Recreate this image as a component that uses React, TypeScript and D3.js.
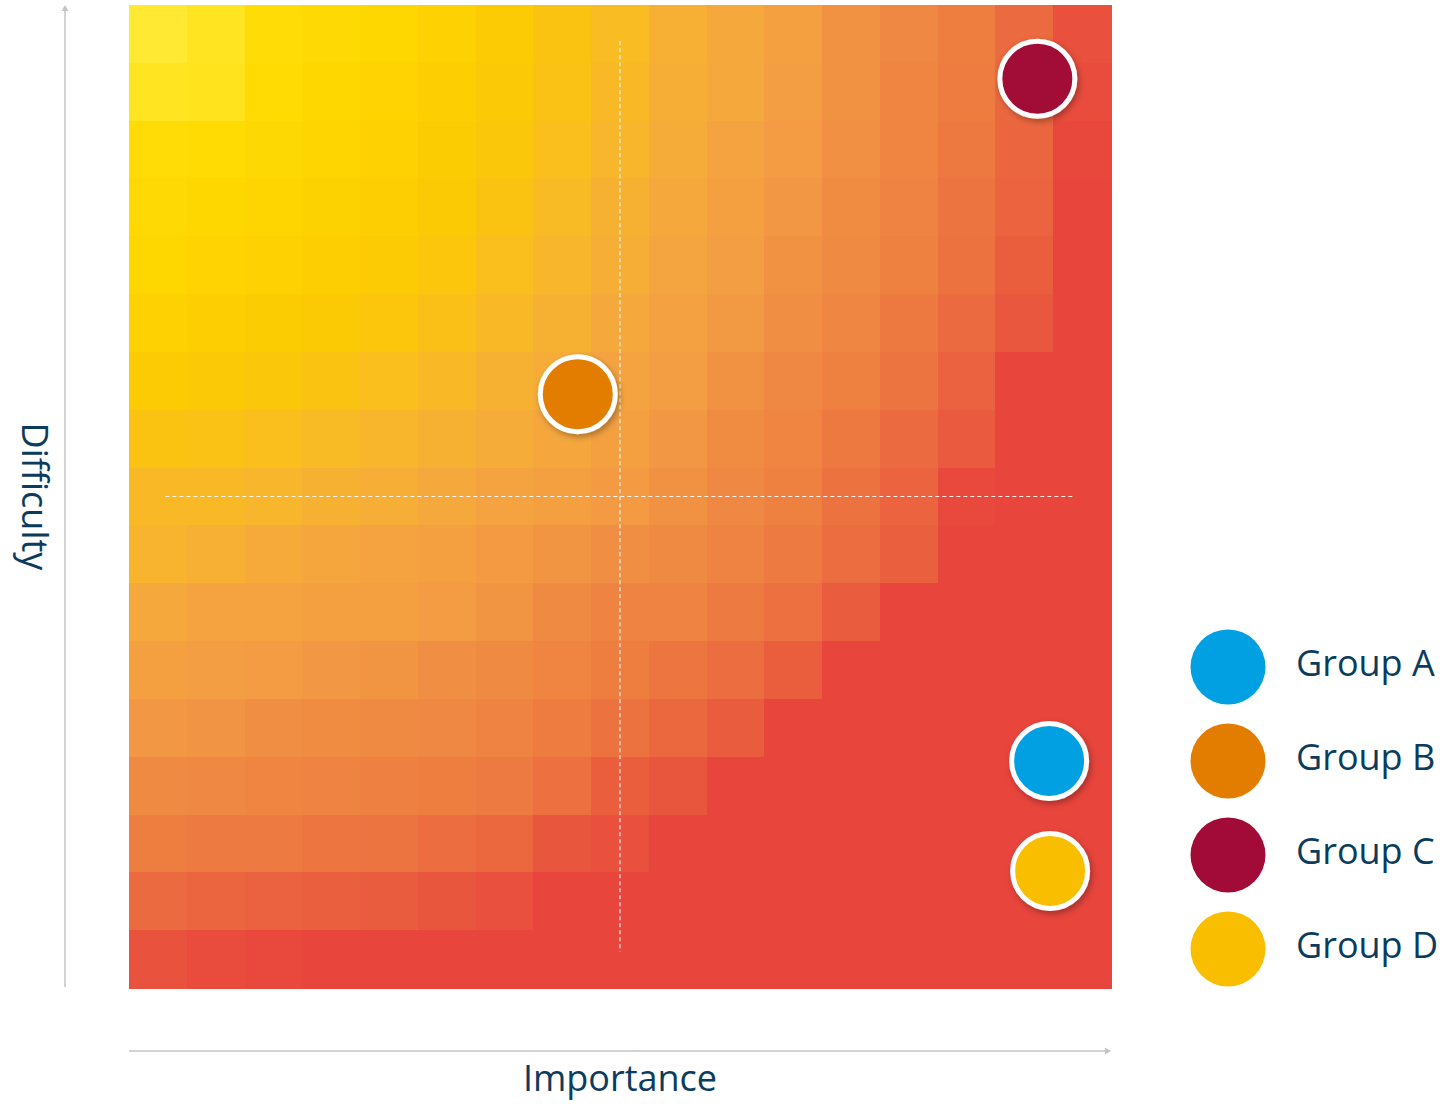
import React from "react";
import * as d3 from "d3";

// Heat levels (0 = bright yellow, 100 = red), rows top→bottom, columns left→right
const heatRows: number[][] = [
  [0, 3, 8, 11, 14, 18, 22, 30, 35, 43, 47, 52, 60, 66, 72, 82, 95],
  [3, 4, 10, 13, 16, 20, 24, 31, 37, 44, 47, 53, 60, 68, 73, 83, 97],
  [8, 10, 12, 15, 18, 21, 26, 33, 39, 45, 50, 54, 61, 68, 75, 84, 99],
  [11, 13, 15, 17, 20, 23, 30, 36, 42, 47, 52, 57, 64, 69, 77, 85, 100],
  [14, 16, 18, 20, 22, 27, 33, 39, 44, 49, 53, 60, 65, 71, 78, 88, 100],
  [18, 20, 21, 23, 27, 32, 37, 42, 47, 51, 56, 62, 67, 75, 82, 91, 100],
  [22, 24, 26, 30, 33, 37, 42, 45, 50, 53, 60, 66, 71, 77, 86, 100, 100],
  [30, 31, 33, 36, 39, 42, 45, 48, 52, 57, 64, 68, 75, 82, 90, 100, 100],
  [37, 37, 39, 42, 44, 47, 50, 52, 55, 60, 66, 71, 78, 85, 98, 100, 100],
  [40, 43, 46, 48, 50, 52, 55, 58, 62, 65, 69, 74, 80, 87, 100, 100, 100],
  [47, 50, 50, 52, 52, 54, 58, 65, 69, 69, 74, 79, 89, 100, 100, 100, 100],
  [52, 53, 54, 57, 58, 62, 65, 68, 72, 76, 80, 88, 100, 100, 100, 100, 100],
  [57, 59, 62, 64, 65, 66, 69, 73, 78, 83, 89, 100, 100, 100, 100, 100, 100],
  [65, 66, 68, 69, 70, 72, 74, 79, 88, 92, 100, 100, 100, 100, 100, 100, 100],
  [72, 74, 74, 76, 77, 80, 83, 92, 95, 100, 100, 100, 100, 100, 100, 100, 100],
  [82, 84, 86, 87, 89, 92, 95, 100, 100, 100, 100, 100, 100, 100, 100, 100, 100],
  [94, 97, 98, 100, 100, 100, 100, 100, 100, 100, 100, 100, 100, 100, 100, 100, 100],
];

const levelStops = [0, 8, 14, 22, 30, 36, 42, 48, 54, 60, 66, 72, 78, 84, 90, 95, 100];
const levelColors = [
  "#FFE933", "#FFDC05", "#FED600", "#FCCB03", "#FAC312", "#F9BB25", "#F7B132",
  "#F5A73E", "#F39C43", "#F19243", "#EF8842", "#EE7E40", "#EC7240", "#EB663F",
  "#E95A3E", "#E9503D", "#E8453C",
];

const groupNames = ["Group A", "Group B", "Group C", "Group D"];
const groupColors = ["#00A0E2", "#E37D00", "#A20B38", "#F9BE00"];
const importance = [9.37, 4.57, 9.25, 9.38];
const difficulty = [2.31, 6.04, 9.25, 1.19];

const axisDomain = [0, 10];
const midValue = 5;
const guideExtent = [0.37, 9.63];

const W = 1452;
const H = 1104;
const plot = { left: 129, right: 1111, top: 5, bottom: 988 };
const textColor = "#0B3C5D";
const font = "'Open Sans', sans-serif";

export default function App() {
  const nCols = heatRows[0].length;
  const nRows = heatRows.length;
  const colBand = d3.scaleBand<number>().domain(d3.range(nCols)).range([plot.left, plot.right]);
  const rowBand = d3.scaleBand<number>().domain(d3.range(nRows)).range([plot.top, plot.bottom]);
  const color = d3.scaleLinear<string>().domain(levelStops).range(levelColors).clamp(true);
  const x = d3.scaleLinear().domain(axisDomain).range([plot.left, plot.right]);
  const y = d3.scaleLinear().domain(axisDomain).range([plot.bottom, plot.top]);

  const axisGray = "#C4C4C4";

  return (
    <svg
      width={W}
      height={H}
      style={{ position: "absolute", left: 0, top: 0, background: "#fff" }}
      xmlns="http://www.w3.org/2000/svg"
    >
      <defs>
        <filter id="shadow" x="-50%" y="-50%" width="200%" height="200%">
          <feDropShadow dx="2" dy="3" stdDeviation="3" floodColor="#000" floodOpacity="0.3" />
        </filter>
      </defs>

      {/* heat cells */}
      <g shapeRendering="crispEdges">
        {heatRows.map((row, r) =>
          row.map((v, c) => (
            <rect
              key={`${r}-${c}`}
              x={colBand(c)!}
              y={rowBand(r)!}
              width={colBand.bandwidth() + 0.5}
              height={rowBand.bandwidth() + 0.5}
              fill={color(v)}
            />
          ))
        )}
      </g>

      {/* quadrant guides */}
      <line
        x1={x(midValue)}
        x2={x(midValue)}
        y1={y(guideExtent[1])}
        y2={y(guideExtent[0])}
        stroke="#fff"
        strokeWidth={1.2}
        strokeDasharray="4 3"
        opacity={0.9}
      />
      <line
        x1={x(guideExtent[0])}
        x2={x(guideExtent[1])}
        y1={y(midValue)}
        y2={y(midValue)}
        stroke="#fff"
        strokeWidth={1.2}
        strokeDasharray="4 3"
        opacity={0.9}
      />

      {/* points */}
      {groupNames.map((g, i) => (
        <circle
          key={g}
          cx={x(importance[i])}
          cy={y(difficulty[i])}
          r={37.5}
          fill={groupColors[i]}
          stroke="#fff"
          strokeWidth={5}
          filter="url(#shadow)"
        />
      ))}

      {/* y axis arrow */}
      <line x1={65} x2={65} y1={987} y2={9} stroke={axisGray} strokeWidth={1.5} />
      <path d="M61.5,11 L65,5 L68.5,11 Z" fill={axisGray} />
      {/* x axis arrow */}
      <line x1={plot.left} x2={1106} y1={1051} y2={1051} stroke={axisGray} strokeWidth={1.5} />
      <path d="M1105,1047.5 L1111,1051 L1105,1054.5 Z" fill={axisGray} />

      {/* axis titles */}
      <text
        x={(plot.left + plot.right) / 2}
        y={1091}
        textAnchor="middle"
        fontFamily={font}
        fontSize={36}
        fill={textColor}
      >
        Importance
      </text>
      <text
        transform={`translate(22, ${(plot.top + plot.bottom) / 2}) rotate(90)`}
        textAnchor="middle"
        fontFamily={font}
        fontSize={36}
        fill={textColor}
      >
        Difficulty
      </text>

      {/* legend */}
      {groupNames.map((g, i) => (
        <g key={g} transform={`translate(1228, ${667 + i * 94})`}>
          <circle r={37.5} fill={groupColors[i]} />
          <text x={68} y={9} fontFamily={font} fontSize={36} fill={textColor}>
            {g}
          </text>
        </g>
      ))}
    </svg>
  );
}
